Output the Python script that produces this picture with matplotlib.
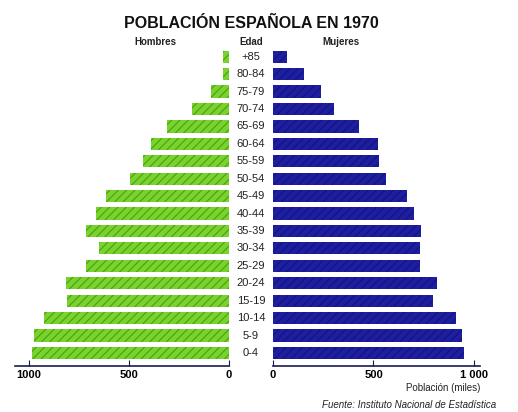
import numpy as np
import matplotlib
matplotlib.use("Agg")
import matplotlib.pyplot as plt
from matplotlib.transforms import blended_transform_factory

# Pirámide de población, España 1970 (miles de personas)
edades = ["0-4", "5-9", "10-14", "15-19", "20-24", "25-29", "30-34", "35-39",
          "40-44", "45-49", "50-54", "55-59", "60-64", "65-69", "70-74",
          "75-79", "80-84", "+85"]
hombres = [985, 977, 927, 810, 815, 713, 650, 713, 665, 617, 495, 432, 390,
           310, 185, 90, 28, 30]
mujeres = [950, 942, 910, 795, 815, 733, 730, 738, 700, 668, 560, 528, 521,
           428, 305, 237, 153, 70]
ticks = [0, 500, 1000]

plt.rcParams['font.family'] = ['Liberation Sans', 'DejaVu Sans']
plt.rcParams['hatch.linewidth'] = 0.8

W, H = 518, 412
fig = plt.figure(figsize=(W / 100, H / 100), dpi=100)
fig.patch.set_facecolor("white")

y = np.arange(len(edades))
bot = 1 - 366 / H
alto = (366 - 48) / H

ax_h = fig.add_axes([15 / W, bot, 214 / W, alto])
ax_m = fig.add_axes([273 / W, bot, 207 / W, alto])

verde = "#78d42c"
azul = "#1e1ea0"
ax_h.barh(y, hombres, height=0.7, color=verde, edgecolor="#4f9c16",
          linewidth=0, hatch="////")
ax_m.barh(y, mujeres, height=0.7, color=azul, edgecolor="#14147a",
          linewidth=0, hatch="////")

ax_h.set_xlim(1070, 0)
ax_m.set_xlim(0, 1030)
for ax in (ax_h, ax_m):
    ax.set_ylim(-0.75, 17.5)
    ax.set_yticks([])
    for s in ("top", "left", "right"):
        ax.spines[s].set_visible(False)
    ax.spines["bottom"].set_color("#1a1a50")
    ax.spines["bottom"].set_linewidth(1.2)
    ax.set_xticks(ticks)
    ax.tick_params(axis="x", direction="in", length=4, color="#1a1a50",
                   labelsize=8, pad=3)
    ax.set_facecolor("none")

ax_h.set_xticklabels(["0", "500", "1000"], fontweight="bold")
ax_m.set_xticklabels(["0", "500", "1 000"], fontweight="bold")

# etiquetas de edad en el centro (x en figura, y en datos)
trans = blended_transform_factory(fig.transFigure, ax_m.transData)
for i, e in enumerate(edades):
    fig.text(251 / W, i, e, ha="center", va="center", fontsize=8,
             color="#222222", transform=trans)

fig.text(251 / W, 1 - 23 / H, "POBLACIÓN ESPAÑOLA EN 1970", ha="center",
         va="center", fontsize=11.5, fontweight="bold", color="#111111")
fig.text(155 / W, 1 - 42 / H, "Hombres", ha="center", va="center",
         fontsize=7, fontweight="bold", color="#222222")
fig.text(251 / W, 1 - 42 / H, "Edad", ha="center", va="center",
         fontsize=7, fontweight="bold", color="#222222")
fig.text(341 / W, 1 - 42 / H, "Mujeres", ha="center", va="center",
         fontsize=7, fontweight="bold", color="#222222")
fig.text(443 / W, 1 - 388 / H, "Población (miles)", ha="center",
         va="center", fontsize=7, color="#222222")
fig.text(409 / W, 1 - 405 / H, "Fuente: Instituto Nacional de Estadística",
         ha="center", va="center", fontsize=7, style="italic",
         color="#222222")

fig.savefig("out.png", dpi=100, facecolor="white")
